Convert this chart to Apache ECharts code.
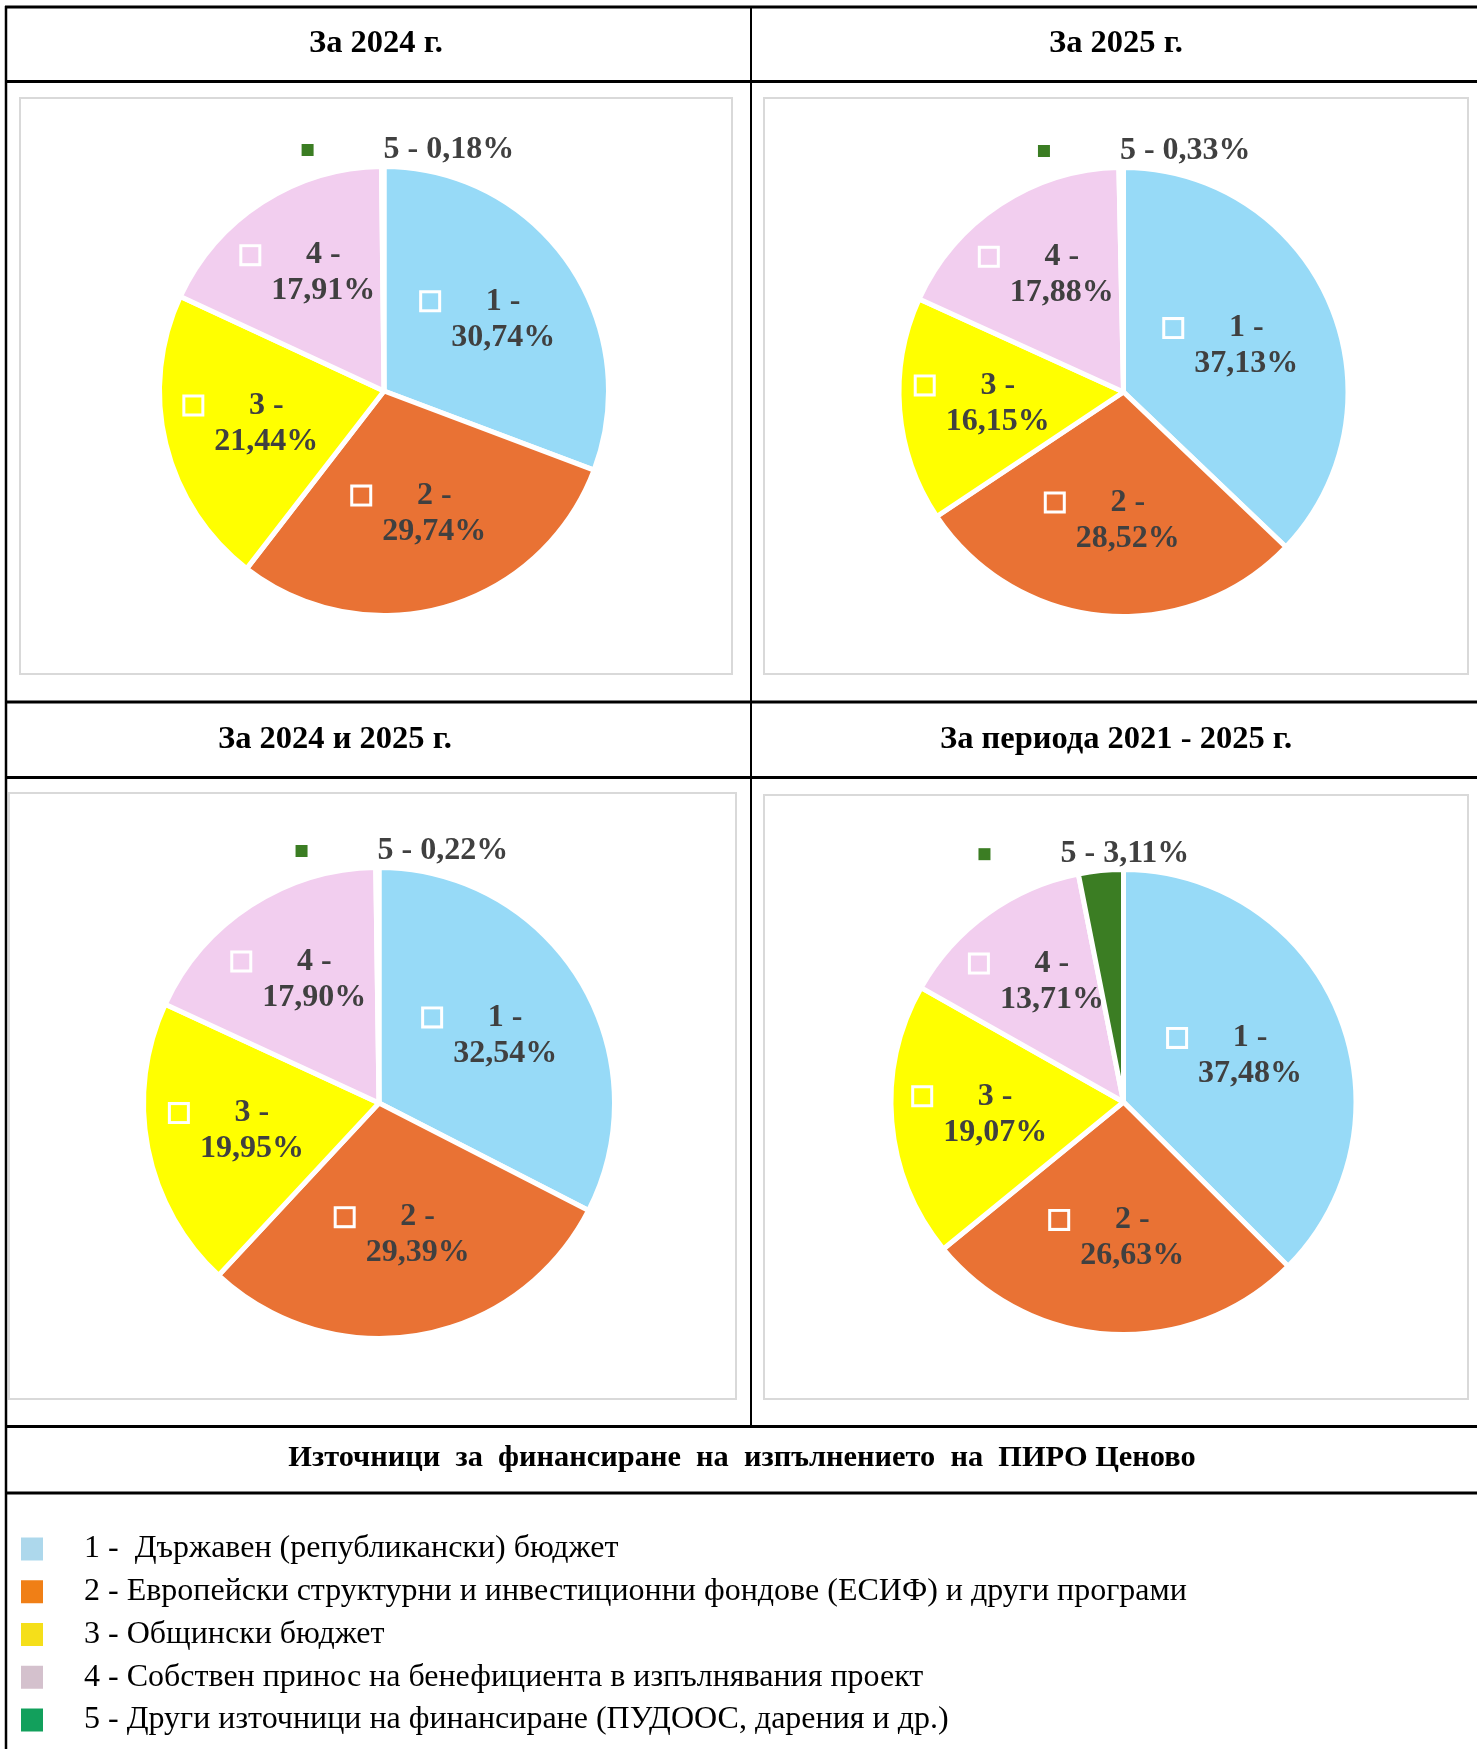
<!DOCTYPE html>
<html><head><meta charset="utf-8">
<script src="https://cdn.jsdelivr.net/npm/echarts@6/dist/echarts.min.js"></script>
<style>html,body{margin:0;padding:0;background:#fff}#c{width:1477px;height:1749px}</style>
</head><body><div id="c"></div>
<script>
// ---- data ----
const categories = [
  '1 -  Държавен (републикански) бюджет',
  '2 - Европейски структурни и инвестиционни фондове (ЕСИФ) и други програми',
  '3 - Общински бюджет',
  '4 - Собствен принос на бенефициента в изпълнявания проект',
  '5 - Други източници на финансиране (ПУДООС, дарения и др.)'
];
const codes = ['1', '2', '3', '4', '5'];
const chartTitles = ['За 2024 г.', 'За 2025 г.', 'За 2024 и 2025 г.', 'За периода 2021 - 2025 г.'];
const mainTitle = 'Източници  за  финансиране  на  изпълнението  на  ПИРО Ценово';
const values2024 = [30.74, 29.74, 21.44, 17.91, 0.18];
const values2025 = [37.13, 28.52, 16.15, 17.88, 0.33];
const values2024and2025 = [32.54, 29.39, 19.95, 17.90, 0.22];
const values2021to2025 = [37.48, 26.63, 19.07, 13.71, 3.11];
const seriesValues = [values2024, values2025, values2024and2025, values2021to2025];

// ---- styles ----
const pieColors = ['#97DAF7', '#E97234', '#FFFF00', '#F2CEEF', '#3B7D23'];
const legendColors = ['#ADD8EC', '#F07F16', '#F5DF1A', '#D4C1CD', '#12A05C'];
const geo = [
  { center: [384, 391], r: 222 },
  { center: [1123.5, 392], r: 222 },
  { center: [379, 1103], r: 233 },
  { center: [1123.5, 1102], r: 230 }
];
const titlePos = [[376, 44], [1116, 44], [335, 740], [1116, 740]];
const SERIF = '"Liberation Serif", "Times New Roman", serif';
const BW = 5;
const LF = 32;

function pct(v) { return v.toFixed(2).replace('.', ',') + '%'; }

const rich = {
  g: { width: 12 },
  s: { width: 28 },
  t: { width: 106, align: 'center', fontFamily: SERIF, fontWeight: 'bold', fontSize: LF, lineHeight: 36, color: '#404040' },
  g5: { width: 70 },
  t5: { fontFamily: SERIF, fontWeight: 'bold', fontSize: LF, lineHeight: 36, color: '#404040' },
  n: { width: 12, height: 12, backgroundColor: pieColors[4] }
};
for (let i = 0; i < 4; i++) {
  rich['m' + i] = { width: 16, height: 16, backgroundColor: pieColors[i], borderColor: '#fff', borderWidth: 3 };
}

function makeLayout(pi) {
  return function (p) {
    const vals = seriesValues[pi];
    const total = vals.reduce((a, b) => a + b, 0);
    let cum = 0;
    for (let j = 0; j < p.dataIndex; j++) cum += vals[j];
    const v = vals[p.dataIndex];
    const mid = (cum + v / 2) / total * 2 * Math.PI;
    const cx = geo[pi].center[0], cy = geo[pi].center[1], r = geo[pi].r;
    let tx, ty;
    if (p.dataIndex < 4) {
      // label block centred on the sector's centroid
      const a = v / total * 2 * Math.PI;
      const k = 4 * Math.sin(a / 2) / (3 * a);
      tx = cx + k * r * Math.sin(mid);
      ty = cy - k * r * Math.cos(mid);
    } else {
      // small slice: label above the pie, drifting sideways with the slice angle
      const d = r + 19;
      tx = cx + 2.77 * d * Math.sin(mid) + 27.7;
      ty = cy - d * Math.cos(mid);
    }
    const lr = p.labelRect;
    return { dx: tx - (lr.x + lr.width / 2), dy: ty - (lr.y + lr.height / 2) };
  };
}

const series = seriesValues.map((vals, pi) => ({
  type: 'pie',
  center: geo[pi].center,
  radius: geo[pi].r + BW / 2,
  startAngle: 90,
  clockwise: true,
  avoidLabelOverlap: false,
  silent: true,
  animation: false,
  itemStyle: { borderColor: '#fff', borderWidth: BW },
  label: {
    show: true,
    position: 'inside',
    formatter: function (p) {
      const i = p.dataIndex;
      if (i === 4) return '{n|}{g5|}{t5|' + codes[i] + ' - ' + pct(vals[i]) + '}';
      return '{m' + i + '|}{g|}{t|' + codes[i] + ' -}\n{s|}{t|' + pct(vals[i]) + '}';
    },
    rich: rich
  },
  labelLine: { show: false },
  labelLayout: makeLayout(pi),
  data: categories.map((name, i) => ({ name: name, value: vals[i], itemStyle: { color: pieColors[i] } }))
}));

const titles = chartTitles.map((t, i) => ({
  text: t, left: titlePos[i][0], top: titlePos[i][1], textAlign: 'center', textVerticalAlign: 'middle', padding: 0,
  textStyle: { fontFamily: SERIF, fontWeight: 'bold', fontSize: 32.5, color: '#000' }
}));
titles.push({
  text: mainTitle, left: 742, top: 1458, textAlign: 'center', textVerticalAlign: 'middle', padding: 0,
  textStyle: { fontFamily: SERIF, fontWeight: 'bold', fontSize: 30.4, color: '#000' }
});

function hline(y, x1, x2, w) { return { type: 'line', silent: true, shape: { x1: x1, y1: y, x2: x2, y2: y }, style: { stroke: '#000', lineWidth: w } }; }
function vline(x, y1, y2, w) { return { type: 'line', silent: true, shape: { x1: x, y1: y1, x2: x, y2: y2 }, style: { stroke: '#000', lineWidth: w } }; }
function box(x1, y1, x2, y2) { return { type: 'rect', silent: true, z: -1, shape: { x: x1, y: y1, width: x2 - x1, height: y2 - y1 }, style: { fill: '#fff', stroke: '#D9D9D9', lineWidth: 2 } }; }

const graphic = [
  box(20, 98, 732, 674),
  box(764, 98, 1468, 674),
  box(9, 793, 736, 1399),
  box(764, 795, 1468, 1399),
  hline(7, 5, 1480, 3),
  hline(81.5, 5, 1480, 3),
  hline(702, 5, 1480, 3),
  hline(777.5, 5, 1480, 3),
  hline(1426.5, 5, 1480, 3),
  hline(1493, 5, 1480, 3),
  vline(6, 6, 1749, 2.5),
  vline(751, 6, 1426, 2)
];

const chart = echarts.init(document.getElementById('c'), null, { renderer: 'canvas' });
chart.setOption({
  backgroundColor: '#fff',
  animation: false,
  title: titles,
  graphic: graphic,
  legend: {
    orient: 'vertical', left: 14, top: 1528, height: 215, padding: [5, 5, 0, 5],
    itemWidth: 24, itemHeight: 25, itemGap: 10.75,
    icon: 'rect', selectedMode: false,
    data: categories.map((c, i) => ({ name: c, itemStyle: { color: legendColors[i] } })),
    textStyle: { fontFamily: SERIF, fontSize: 32, lineHeight: 27, color: '#000', padding: [0, 0, 0, 35] }
  },
  series: series
});
</script></body></html>
